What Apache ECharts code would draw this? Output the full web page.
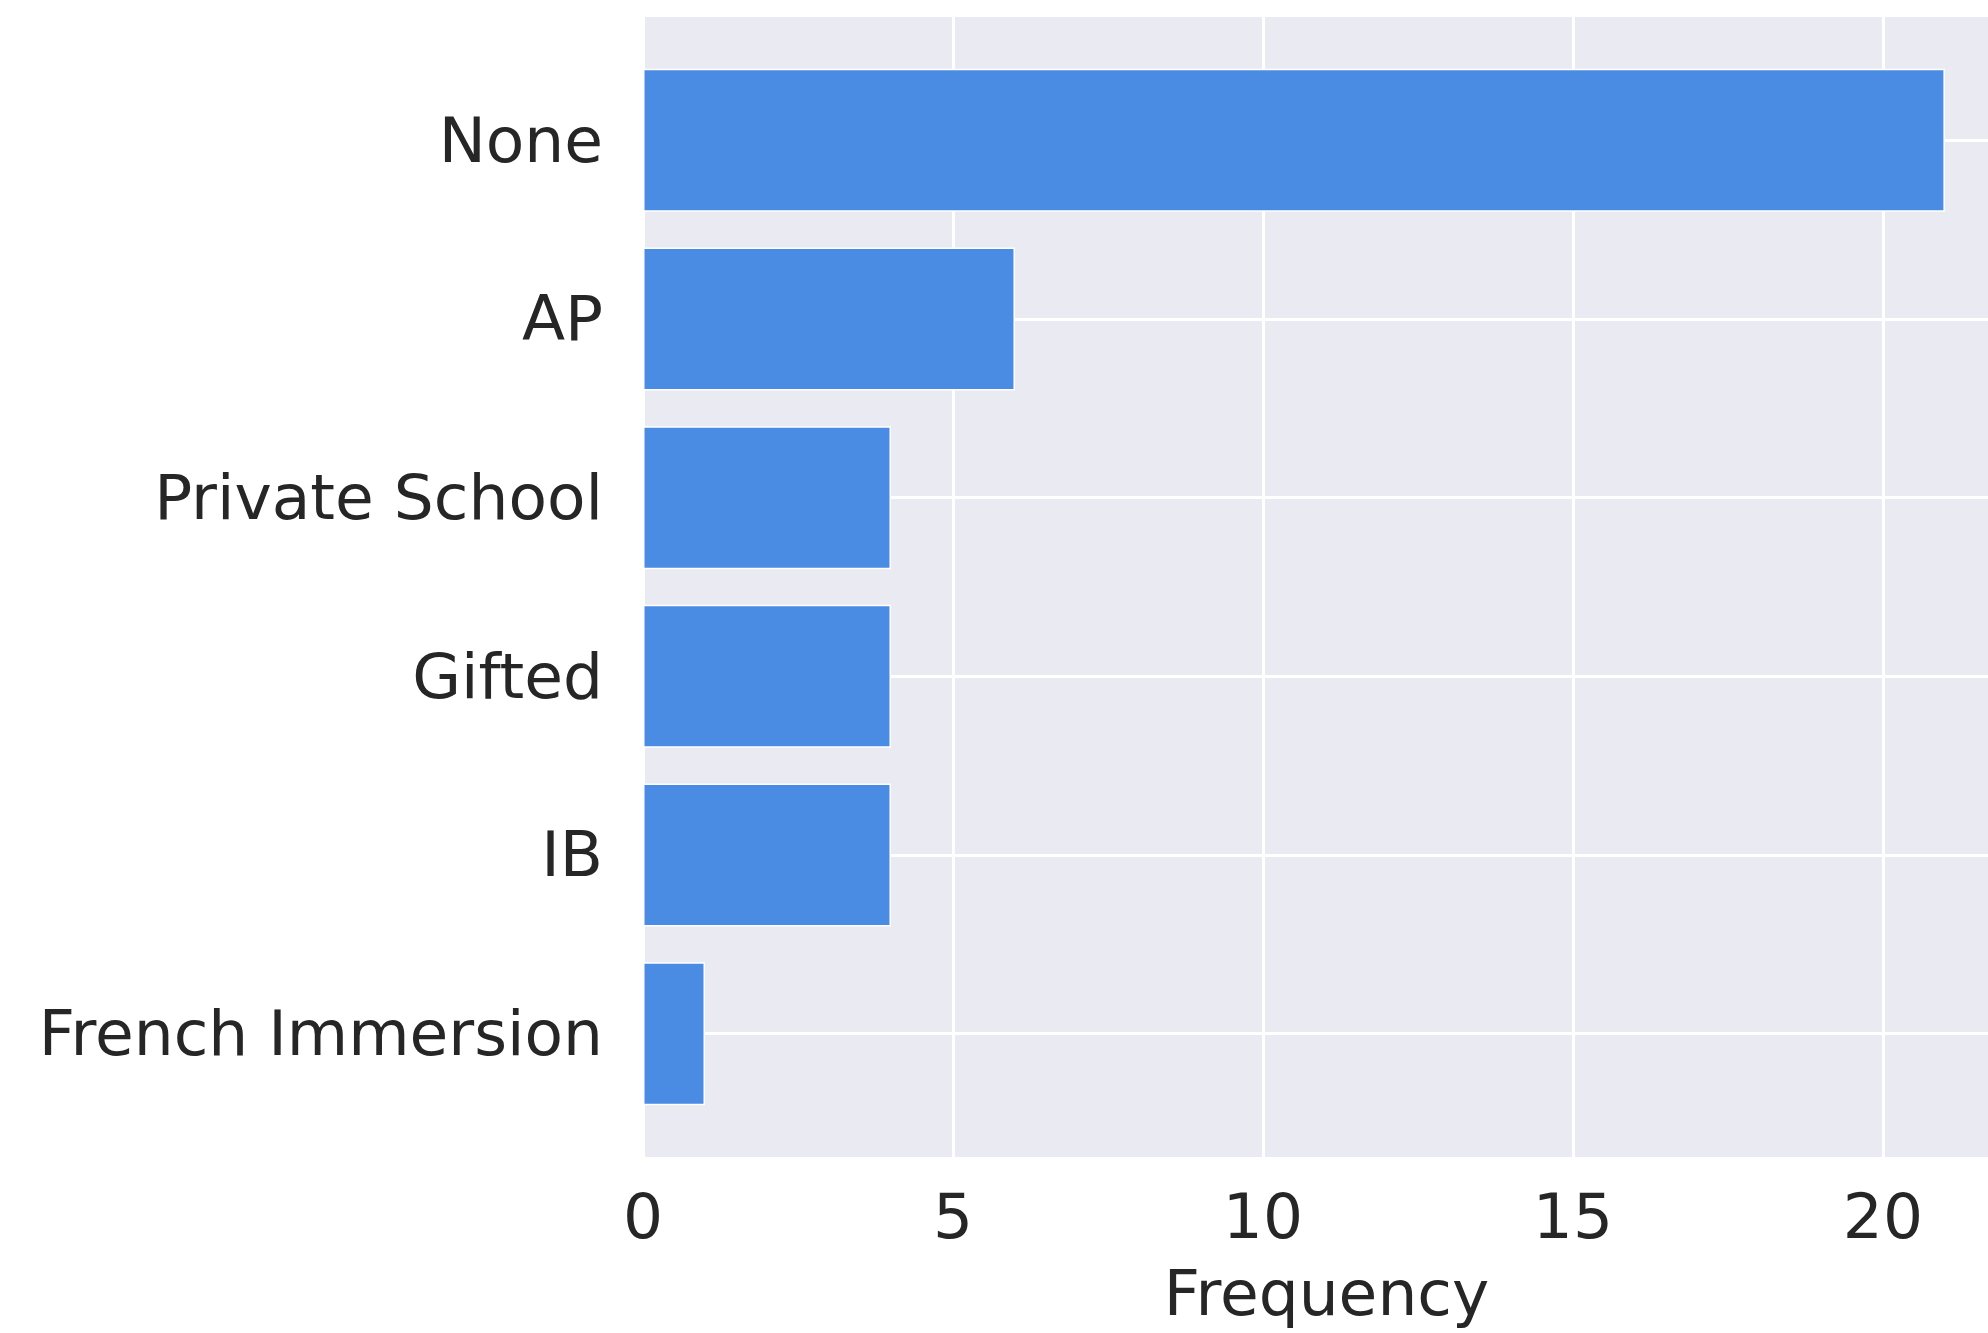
<!DOCTYPE html>
<html>
<head>
<meta charset="utf-8">
<script src="https://cdn.jsdelivr.net/npm/echarts@6/dist/echarts.min.js"></script>
<style>html,body{margin:0;padding:0;background:#fff;}#c{width:1988px;height:1333px;}</style>
</head>
<body>
<div id="c"></div>
<script>
const categories = ["None", "AP", "Private School", "Gifted", "IB", "French Immersion"];
const values = [21, 6, 4, 4, 4, 1];
const xAxisName = "Frequency";

const FONT = "DejaVu Sans";
const TXT = "#262626";
const chart = echarts.init(document.getElementById('c'), null, {renderer: 'canvas'});
chart.setOption({
  animation: false,
  backgroundColor: '#ffffff',
  grid: [
    {left: 643, width: 1367, top: 17, bottom: 176, show: true, backgroundColor: '#EAEAF2', borderWidth: 0, outerBoundsMode: 'none', containLabel: false},
    {left: 643, width: 1367, top: 51, bottom: 210, show: false, outerBoundsMode: 'none', containLabel: false}
  ],
  xAxis: [
    {gridIndex: 0, type: 'value', min: 0, max: 22.05, interval: 5,
     axisLine: {show: false}, axisTick: {show: false},
     axisLabel: {show: true, margin: 33, fontSize: 63, fontFamily: FONT, color: TXT, showMaxLabel: false},
     splitLine: {show: true, showMaxLine: false, lineStyle: {color: '#ffffff', width: 3}},
     name: xAxisName, nameLocation: 'middle', nameGap: 110,
     nameTextStyle: {fontSize: 63, fontFamily: FONT, color: TXT}},
    {gridIndex: 1, type: 'value', min: 0, max: 22.05, show: false}
  ],
  yAxis: [
    {gridIndex: 0, type: 'value', min: -0.69, max: 5.69, minInterval: 1, maxInterval: 1, inverse: true,
     axisLine: {show: false}, axisTick: {show: false}, axisLabel: {show: false},
     splitLine: {show: true, showMinLine: false, showMaxLine: false, lineStyle: {color: '#ffffff', width: 3}}},
    {gridIndex: 1, type: 'category', data: categories, inverse: true,
     axisLine: {show: false}, axisTick: {show: false}, splitLine: {show: false},
     axisLabel: {margin: 40, fontSize: 63, fontFamily: FONT, color: TXT,
       formatter: function (v) { return '{a|' + v + '}'; },
       rich: {a: {fontSize: 63, fontFamily: FONT, color: TXT, padding: [10, 0, 0, 0]}}}}
  ],
  series: [{
    type: 'bar', xAxisIndex: 1, yAxisIndex: 1, data: values,
    barCategoryGap: '20%',
    itemStyle: {color: '#4A8BE4', borderColor: '#ffffff', borderWidth: 1.5},
    z: 5
  }]
});
</script>
</body>
</html>
